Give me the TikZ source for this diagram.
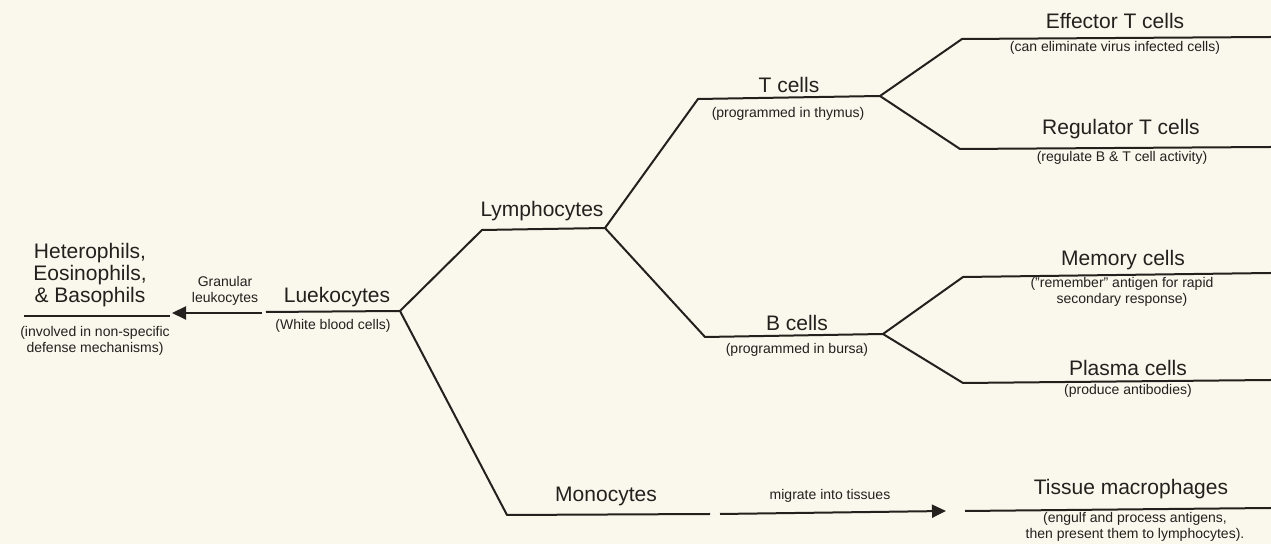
\documentclass[tikz,border=0pt]{standalone}
\usepackage{fontspec}
\setmainfont{Liberation Sans}
\usetikzlibrary{arrows.meta}
\definecolor{paper}{RGB}{250,248,236}
\definecolor{ink}{RGB}{35,32,30}
\begin{document}
\begin{tikzpicture}[x=0.5pt,y=-0.5pt,
  big/.style={font=\fontsize{10.5}{11}\selectfont, text=ink, inner sep=0pt, align=center},
  small/.style={font=\fontsize{7}{7.8}\selectfont, text=ink, inner sep=0pt, align=center},
  branch/.style={draw=ink, line width=1pt, line join=round},
  arr/.style={branch, -{Triangle[length=7pt,width=6.5pt]}}]
\fill[paper] (0,0) rectangle (1271,544);
\useasboundingbox (0,0) rectangle (1271,544);
% junction coordinates
\coordinate (hetL) at (24,316);
\coordinate (hetR) at (170,316);
\coordinate (arrS) at (262,313);
\coordinate (arrE) at (172,313);
\coordinate (leuL) at (266,312);
\coordinate (leuJ) at (400,311);
\coordinate (lymL) at (482,230);
\coordinate (lymJ) at (605,228);
\coordinate (tL) at (698,99);
\coordinate (tJ) at (880,96);
\coordinate (effL) at (962,39);
\coordinate (effR) at (1271,37);
\coordinate (regL) at (960,149);
\coordinate (regR) at (1271,147);
\coordinate (bL) at (705,337);
\coordinate (bJ) at (883,334);
\coordinate (memL) at (963,277);
\coordinate (memR) at (1271,273);
\coordinate (plaL) at (963,383);
\coordinate (plaR) at (1271,380);
\coordinate (monL) at (507,515);
\coordinate (monR) at (710,514);
\coordinate (migS) at (720,514);
\coordinate (migE) at (946,511);
\coordinate (macL) at (965,511);
\coordinate (macR) at (1271,508);
% lines
\draw[branch] (hetL) -- (hetR);
\draw[arr] (arrS) -- (arrE);
\draw[branch] (leuL) -- (leuJ) -- (lymL) -- (lymJ) -- (tL) -- (tJ) -- (effL) -- (effR);
\draw[branch] (tJ) -- (regL) -- (regR);
\draw[branch] (lymJ) -- (bL) -- (bJ) -- (memL) -- (memR);
\draw[branch] (bJ) -- (plaL) -- (plaR);
\draw[branch] (leuJ) -- (monL) -- (monR);
\draw[arr] (migS) -- (migE);
\draw[branch] (macL) -- (macR);
% labels
\node[big] (het) at (90,275) {Heterophils,\\Eosinophils,\\\& Basophils};
\node[small] (hetsub) at (95,341) {(involved in non-specific\\defense mechanisms)};
\node[small] (gran) at (225,291) {Granular\\leukocytes};
\node[big] (luek) at (337,297) {Luekocytes};
\node[small] (luesub) at (333,326) {(White blood cells)};
\node[big] (lymph) at (542,211) {Lymphocytes};
\node[big] (tcell) at (789,85) {T cells};
\node[small] (tsub) at (788,114) {(programmed in thymus)};
\node[big] (eff) at (1115,21) {Effector T cells};
\node[small] (effsub) at (1115,48) {(can eliminate virus infected cells)};
\node[big] (reg) at (1121,129) {Regulator T cells};
\node[small] (regsub) at (1122,158) {(regulate B \& T cell activity)};
\node[big] (mem) at (1123,260) {Memory cells};
\node[small] (memsub) at (1122,292) {("remember" antigen for rapid\\secondary response)};
\node[big] (bcell) at (797,323) {B cells};
\node[small] (bsub) at (797,350) {(programmed in bursa)};
\node[big] (pla) at (1128,368) {Plasma cells};
\node[small] (plasub) at (1128,391) {(produce antibodies)};
\node[big] (mono) at (606,496) {Monocytes};
\node[small] (migr) at (830,496) {migrate into tissues};
\node[big] (mac) at (1131,489) {Tissue macrophages};
\node[small] (macsub) at (1135,527) {(engulf and process antigens,\\then present them to lymphocytes).};
\end{tikzpicture}
\end{document}
